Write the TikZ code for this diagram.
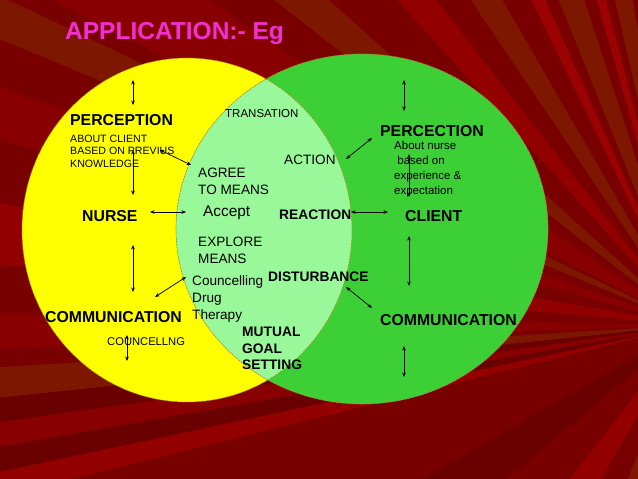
\documentclass[tikz,border=0pt]{standalone}
\usepackage{fontspec}
\setmainfont{Liberation Sans}
\usetikzlibrary{arrows.meta}
\definecolor{bgbase}{HTML}{780000}
\definecolor{rA}{HTML}{920000}
\definecolor{rB}{HTML}{6A0000}
\definecolor{rC}{HTML}{7E1700}
\definecolor{rD}{HTML}{9C0202}
\definecolor{rE}{HTML}{880000}
\definecolor{titlec}{HTML}{F22FD2}
\definecolor{yel}{HTML}{FFFF00}
\definecolor{grn}{HTML}{3CCF36}
\definecolor{lgrn}{HTML}{99F899}
\definecolor{outl}{HTML}{B8862A}
\begin{document}
\begin{tikzpicture}[x=1pt,y=-1pt,
  txt/.style={inner sep=0pt, anchor=base west, text=black},
  bigb/.style={txt, font=\bfseries\fontsize{15.8}{18}\selectfont},
  midb/.style={txt, font=\bfseries\fontsize{13.8}{16}\selectfont},
  midn/.style={txt, font=\fontsize{13.6}{16}\selectfont},
  smalln/.style={txt, font=\fontsize{11.5}{14}\selectfont},
  tinyn/.style={txt, font=\fontsize{10.6}{12}\selectfont},
  dbl/.style={{Stealth[length=4.5pt,width=3.6pt]}-{Stealth[length=4.5pt,width=3.6pt]}, line width=0.75pt, black},
  rim/.style={draw=outl, line width=0.6pt, dash pattern=on 2pt off 1pt}]
\useasboundingbox (0,0) rectangle (638,479);
% background
\fill[bgbase] (0,0) rectangle (638,479);
\begin{scope}
  \clip (0,0) rectangle (638,479);
  \coordinate (F) at (690,325);
  \foreach \a/\b/\c in {166/168/rA, 168/170/rB, 170/172/rE, 172/174/rB, 174/176.5/rC,
      178/181/rE, 185/190/rA, 195/199/rE, 202.5/205.5/rC, 207/214/rE, 218/222/rC,
      228/232/rA, 236/240/rC, 244/246/rD, 248/252/rC, 254/255.5/rD, 257/260/rC,
      262/264/rD, 140/150/rB, 120/128/rA, 105/112/rC}
    \fill[\c] (F) -- +(\a:1500) -- +(\b:1500) -- cycle;
\end{scope}
% title
\node[txt, font=\bfseries\fontsize{24.5}{28}\selectfont, text=titlec] (title) at (65,39) {APPLICATION:- Eg};
% ellipses
\fill[yel] (187,230) ellipse [x radius=165pt, y radius=172pt];
\fill[grn] (362,229) ellipse [x radius=186pt, y radius=175pt];
\begin{scope}
  \clip (187,230) ellipse [x radius=165pt, y radius=172pt];
  \fill[lgrn] (362,229) ellipse [x radius=186pt, y radius=175pt];
\end{scope}
\path[rim] (187,230) ellipse [x radius=165pt, y radius=172pt];
\path[rim] (362,229) ellipse [x radius=186pt, y radius=175pt];
% left texts
\node[bigb] (perc) at (70,125) {PERCEPTION};
\node[tinyn] (ab1) at (70,142) {ABOUT CLIENT};
\node[tinyn] (ab2) at (70,154.5) {BASED ON PREVIUS};
\node[tinyn] (ab3) at (70,167) {KNOWLEDGE};
\node[bigb] (nurse) at (82,221) {NURSE};
\node[bigb] (commL) at (45,322) {COMMUNICATION};
\node[smalln, font=\fontsize{11.2}{14}\selectfont] (counL) at (107,345) {COUNCELLNG};
% middle texts
\node[smalln] (trans) at (225,117) {TRANSATION};
\node[midn] (action) at (284,164) {ACTION};
\node[midn] (agree1) at (198,177) {AGREE};
\node[midn] (agree2) at (198,194) {TO MEANS};
\node[txt, font=\fontsize{15.4}{18}\selectfont] (accept) at (203,216) {Accept};
\node[midb] (react) at (279,219) {REACTION};
\node[midn] (expl1) at (198,246) {EXPLORE};
\node[midn] (expl2) at (198,263) {MEANS};
\node[midn] (coun1) at (192,285) {Councelling};
\node[midn] (coun2) at (192,302) {Drug};
\node[midn] (coun3) at (192,319) {Therapy};
\node[midb] (dist) at (268,281) {DISTURBANCE};
\node[midb] (mut1) at (242,336) {MUTUAL};
\node[midb] (mut2) at (242,353) {GOAL};
\node[midb] (mut3) at (242,369.5) {SETTING};
% right texts
\node[bigb] (percR) at (380,136) {PERCECTION};
\node[smalln] (nu1) at (394,149) {About nurse};
\node[smalln] (nu2) at (394,164) {\ based on};
\node[smalln] (nu3) at (394,179) {experience \&};
\node[smalln] (nu4) at (394,194) {expectation};
\node[bigb] (client) at (405,221) {CLIENT};
\node[bigb] (commR) at (380,325) {COMMUNICATION};
% arrow end points
\coordinate (p1a) at (133,80);  \coordinate (p1b) at (133,105);
\coordinate (p2a) at (133,150); \coordinate (p2b) at (133,195);
\coordinate (p3a) at (160,150); \coordinate (p3b) at (191,165);
\coordinate (p4a) at (150,212); \coordinate (p4b) at (186,212);
\coordinate (p5a) at (133,245); \coordinate (p5b) at (133,292);
\coordinate (p6a) at (155,297); \coordinate (p6b) at (186,277);
\coordinate (p7a) at (127,335); \coordinate (p7b) at (127,361);
\coordinate (q1a) at (404,80);  \coordinate (q1b) at (404,111);
\coordinate (q2a) at (346,159); \coordinate (q2b) at (372,138);
\coordinate (q3a) at (409,154); \coordinate (q3b) at (409,197);
\coordinate (q4a) at (351,212); \coordinate (q4b) at (388,212);
\coordinate (q5a) at (409,236); \coordinate (q5b) at (409,286);
\coordinate (q6a) at (346,287); \coordinate (q6b) at (372,308);
\coordinate (q7a) at (404,346); \coordinate (q7b) at (404,377);
\foreach \s/\e in {p1a/p1b, p2a/p2b, p3a/p3b, p4a/p4b, p5a/p5b, p6a/p6b, p7a/p7b,
    q1a/q1b, q2a/q2b, q3a/q3b, q4a/q4b, q5a/q5b, q6a/q6b, q7a/q7b}
  \draw[dbl] (\s) -- (\e);
\end{tikzpicture}
\end{document}
